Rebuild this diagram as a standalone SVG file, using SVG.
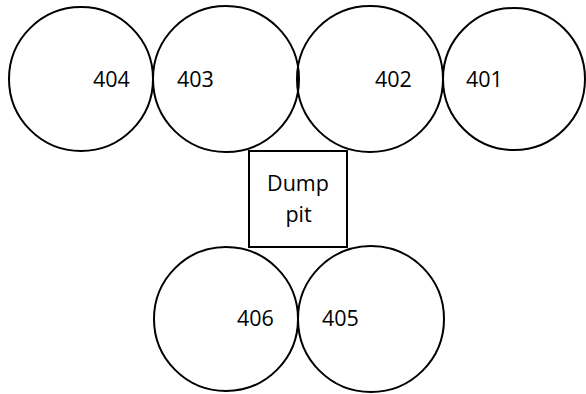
<svg xmlns="http://www.w3.org/2000/svg" width="586" height="394" viewBox="0 0 586 394">
<style>
.c{fill:none;stroke:#000;stroke-width:2}
.t{font-family:"Open Sans","Liberation Sans",sans-serif;font-size:21.5px;fill:#000}
</style>
<rect width="586" height="394" fill="#fff"/>
<g id="n404"><circle class="c" cx="81" cy="79" r="72"/><text class="t" x="93" y="87">404</text></g>
<g id="n403"><circle class="c" cx="226" cy="79" r="73"/><text class="t" x="177" y="87">403</text></g>
<g id="n402"><circle class="c" cx="370" cy="79" r="73"/><text class="t" x="375" y="87">402</text></g>
<g id="n401"><circle class="c" cx="514" cy="79" r="71"/><text class="t" x="466" y="87">401</text></g>
<g id="dump"><rect class="c" x="249" y="151" width="98" height="96"/><text class="t" x="298" y="191" text-anchor="middle">Dump</text><text class="t" x="298.5" y="222" text-anchor="middle">pit</text></g>
<g id="n406"><circle class="c" cx="226" cy="319" r="72"/><text class="t" x="237" y="326">406</text></g>
<g id="n405"><circle class="c" cx="371" cy="319" r="73"/><text class="t" x="322" y="326">405</text></g>
<g id="connectors"></g>
</svg>
